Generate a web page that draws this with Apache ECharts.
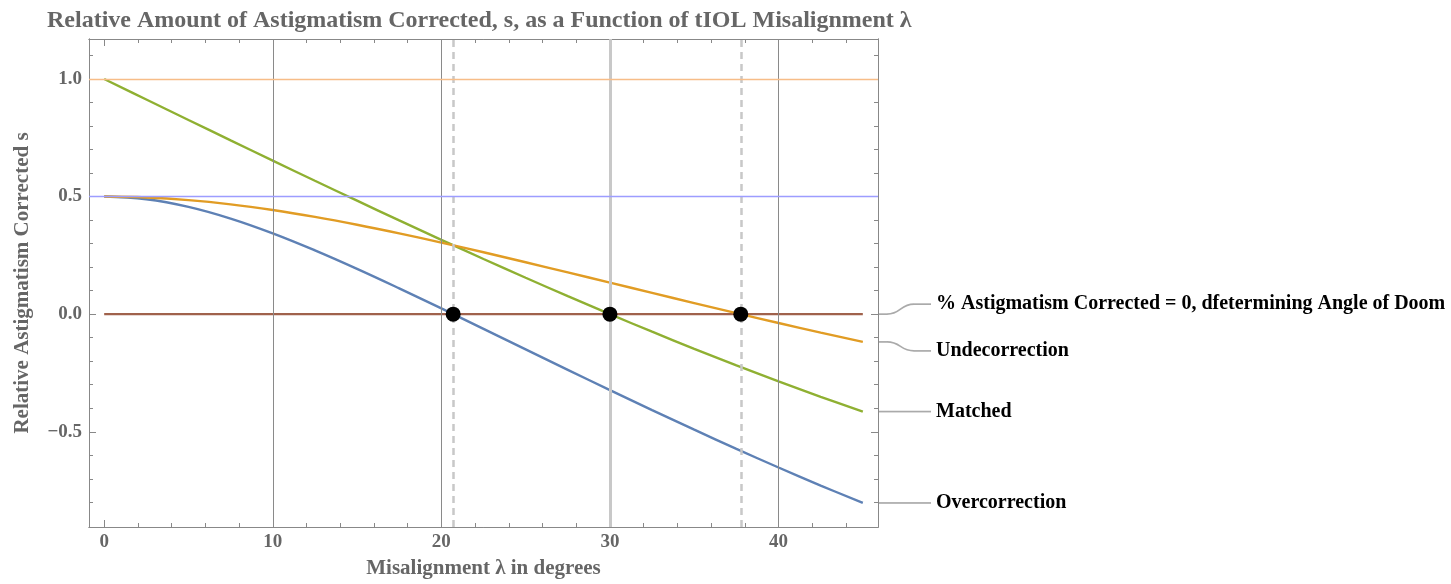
<!DOCTYPE html>
<html>
<head>
<meta charset="utf-8">
<script src="https://cdn.jsdelivr.net/npm/echarts@6/dist/echarts.min.js"></script>
<style>html,body{margin:0;padding:0;background:#fff}#c{width:1451px;height:584px}</style>
</head>
<body>
<div id="c"></div>
<script>
// ---- data ----
const lambdaDeg = [0,2.5,5,7.5,10,12.5,15,17.5,20,22.5,25,27.5,30,32.5,35,37.5,40,42.5,45];
const overcorrection = [0.5,0.4887,0.4563,0.4065,0.3436,0.2712,0.1926,0.1097,0.0244,-0.0624,-0.1496,-0.2366,-0.3229,-0.4079,-0.4913,-0.5728,-0.6520,-0.7287,-0.8028];
const matched = [1,0.9128,0.8257,0.7389,0.6527,0.5671,0.4824,0.3986,0.3160,0.2346,0.1548,0.0765,0,-0.0746,-0.1472,-0.2175,-0.2856,-0.3512,-0.4142];
const undercorrection = [0.5,0.4962,0.4850,0.4670,0.4429,0.4137,0.3803,0.3436,0.3043,0.2632,0.2208,0.1775,0.1340,0.0904,0.0471,0.0044,-0.0375,-0.0784,-0.1180];
const zeroLine = [[0,0],[45,0]];
const zeroCrossings = [[20.7,0],[30,0],[37.76,0]];
const xMajorTicks = [0,10,20,30,40];
const xMinorTicks = [2,4,6,8,12,14,16,18,22,24,26,28,32,34,36,38,42,44];
const yMajorTicks = [-0.5,0,0.5,1.0];
const yMinorTicks = [-0.8,-0.7,-0.6,-0.4,-0.3,-0.2,-0.1,0.1,0.2,0.3,0.4,0.6,0.7,0.8,0.9,1.1];
const solidVLines = [10,20,40];
const thickVLine = 30;
const dashedVLines = [20.7,37.76];
const hLines = [{v:1.0,c:'#f7bd88'},{v:0.5,c:'#9d9dff'}];
const callouts = [
  {text:'% Astigmatism Corrected = 0, dfetermining Angle of Doom', v:0, dy:-10},
  {text:'Undecorrection', v:undercorrection[undercorrection.length-1], dy:9},
  {text:'Matched', v:matched[matched.length-1], dy:0},
  {text:'Overcorrection', v:overcorrection[overcorrection.length-1], dy:0}
];
const title = 'Relative Amount of Astigmatism Corrected, s, as a Function of tIOL Misalignment λ';
const xName = 'Misalignment λ in degrees';
const yName = 'Relative Astigmatism Corrected s';

const X_MIN = -0.9, X_MAX = 45.9, Y_MIN = -0.905, Y_MAX = 1.17;
const FONT = '"Liberation Serif","DejaVu Serif",serif';
const AX = '#888';

function pairs(xs, ys){ return xs.map((x,i)=>[x,ys[i]]); }
function fmtY(v){ const s = Math.abs(v).toFixed(1); return v < 0 ? '\u2212' + s : s; }

function xAx(pos, ticks, len, labels){
  return {type:'value', min:X_MIN, max:X_MAX, position:pos, gridIndex:0,
    axisLine:{show:true, onZero:false, lineStyle:{color:AX, width:1}},
    axisTick:{show:true, inside:true, length:len, customValues:ticks, lineStyle:{color:AX}},
    axisLabel:{show:labels, customValues:ticks, color:'#666', fontFamily:FONT, fontWeight:'bold', fontSize:19, margin:6},
    splitLine:{show:false}};
}
function yAx(pos, ticks, len, labels){
  return {type:'value', min:Y_MIN, max:Y_MAX, position:pos, gridIndex:0,
    axisLine:{show:true, onZero:false, lineStyle:{color:AX, width:1}},
    axisTick:{show:true, inside:true, length:len, customValues:ticks, lineStyle:{color:AX}},
    axisLabel:{show:labels, customValues:ticks, formatter:fmtY, color:'#666', fontFamily:FONT, fontWeight:'bold', fontSize:19, margin:7},
    splitLine:{show:false}};
}

const xAxes = [xAx('bottom', xMajorTicks, 7, true), xAx('bottom', xMinorTicks, 4, false),
               xAx('top', xMajorTicks, 7, false), xAx('top', xMinorTicks, 4, false)];
xAxes[0].name = xName; xAxes[0].nameLocation = 'middle'; xAxes[0].nameGap = 31;
xAxes[0].nameTextStyle = {color:'#666', fontFamily:FONT, fontWeight:'bold', fontSize:21};
const yAxes = [yAx('left', yMajorTicks, 7, true), yAx('left', yMinorTicks, 4, false),
               yAx('right', yMajorTicks, 7, false), yAx('right', yMinorTicks, 4, false)];
yAxes[0].name = yName; yAxes[0].nameLocation = 'middle'; yAxes[0].nameGap = 56;
yAxes[0].nameTextStyle = {color:'#666', fontFamily:FONT, fontWeight:'bold', fontSize:21};

const markLineData = [];
solidVLines.forEach(v=>markLineData.push({xAxis:v, lineStyle:{color:'#8a8a8a', width:1, type:'solid'}}));
markLineData.push({xAxis:thickVLine, lineStyle:{color:'#c8c8c8', width:3, type:'solid'}});
dashedVLines.forEach(v=>markLineData.push({xAxis:v, lineStyle:{color:'#c8c8c8', width:2.5, type:[7,5]}}));
hLines.forEach(h=>markLineData.push({yAxis:h.v, lineStyle:{color:h.c, width:1.3, type:'solid', opacity:1}}));

function curve(name, ys, color, z){
  return {name, type:'line', data:pairs(lambdaDeg, ys), smooth:0.4, showSymbol:false, symbol:'none',
    lineStyle:{color, width:2.4}, z, silent:true, animation:false};
}

const option = {
  animation:false,
  backgroundColor:'#fff',
  title:{text:title, left:42, top:4,
    textStyle:{color:'#666', fontFamily:FONT, fontWeight:'bold', fontSize:24}},
  grid:{left:89, right:573, top:39, bottom:57, containLabel:false},
  xAxis:xAxes, yAxis:yAxes,
  series:[
    {name:'refs', type:'line', data:[], xAxisIndex:0, yAxisIndex:0, silent:true, z:1,
      markLine:{silent:true, symbol:'none', label:{show:false}, animation:false, data:markLineData}},
    {name:'zero', type:'line', data:zeroLine, showSymbol:false, symbol:'none', lineStyle:{color:'#a0624c', width:2.4}, z:2, animation:false},
    curve('Overcorrection', overcorrection, '#5e81b5', 3),
    curve('Matched', matched, '#8fb032', 3),
    curve('Undercorrection', undercorrection, '#e19c24', 3),
    {name:'crossings', type:'scatter', data:zeroCrossings, symbol:'circle', symbolSize:15,
      itemStyle:{color:'#000', opacity:1}, z:5, animation:false}
  ]
};

const chart = echarts.init(document.getElementById('c'), null, {renderer:'canvas'});
chart.setOption(option);

// callout labels with leader lines, positioned through the chart's own scales
const right = chart.convertToPixel({xAxisIndex:0}, X_MAX);
const textX = 936;
const graphics = [];
callouts.forEach(c=>{
  const y0 = chart.convertToPixel({yAxisIndex:0}, c.v);
  const yt = y0 + c.dy;
  const x1 = right + 9, x2 = right + 36, x3 = textX - 5;
  const ls = {fill:null, stroke:'#aaa', lineWidth:1.7};
  graphics.push({type:'polyline', shape:{points:[[right,y0],[x1,y0]]}, style:ls, silent:true});
  graphics.push({type:'bezierCurve', shape:{x1:x1, y1:y0, cpx1:x1+14, cpy1:y0, cpx2:x2-14, cpy2:yt, x2:x2, y2:yt}, style:ls, silent:true});
  graphics.push({type:'polyline', shape:{points:[[x2,yt],[x3,yt]]}, style:ls, silent:true});
  graphics.push({type:'text', x:textX, y:yt, style:{text:c.text, fill:'#000',
    font:`bold 20px ${FONT}`, verticalAlign:'middle'}, silent:true});
});
chart.setOption({graphic:graphics});
</script>
</body>
</html>
